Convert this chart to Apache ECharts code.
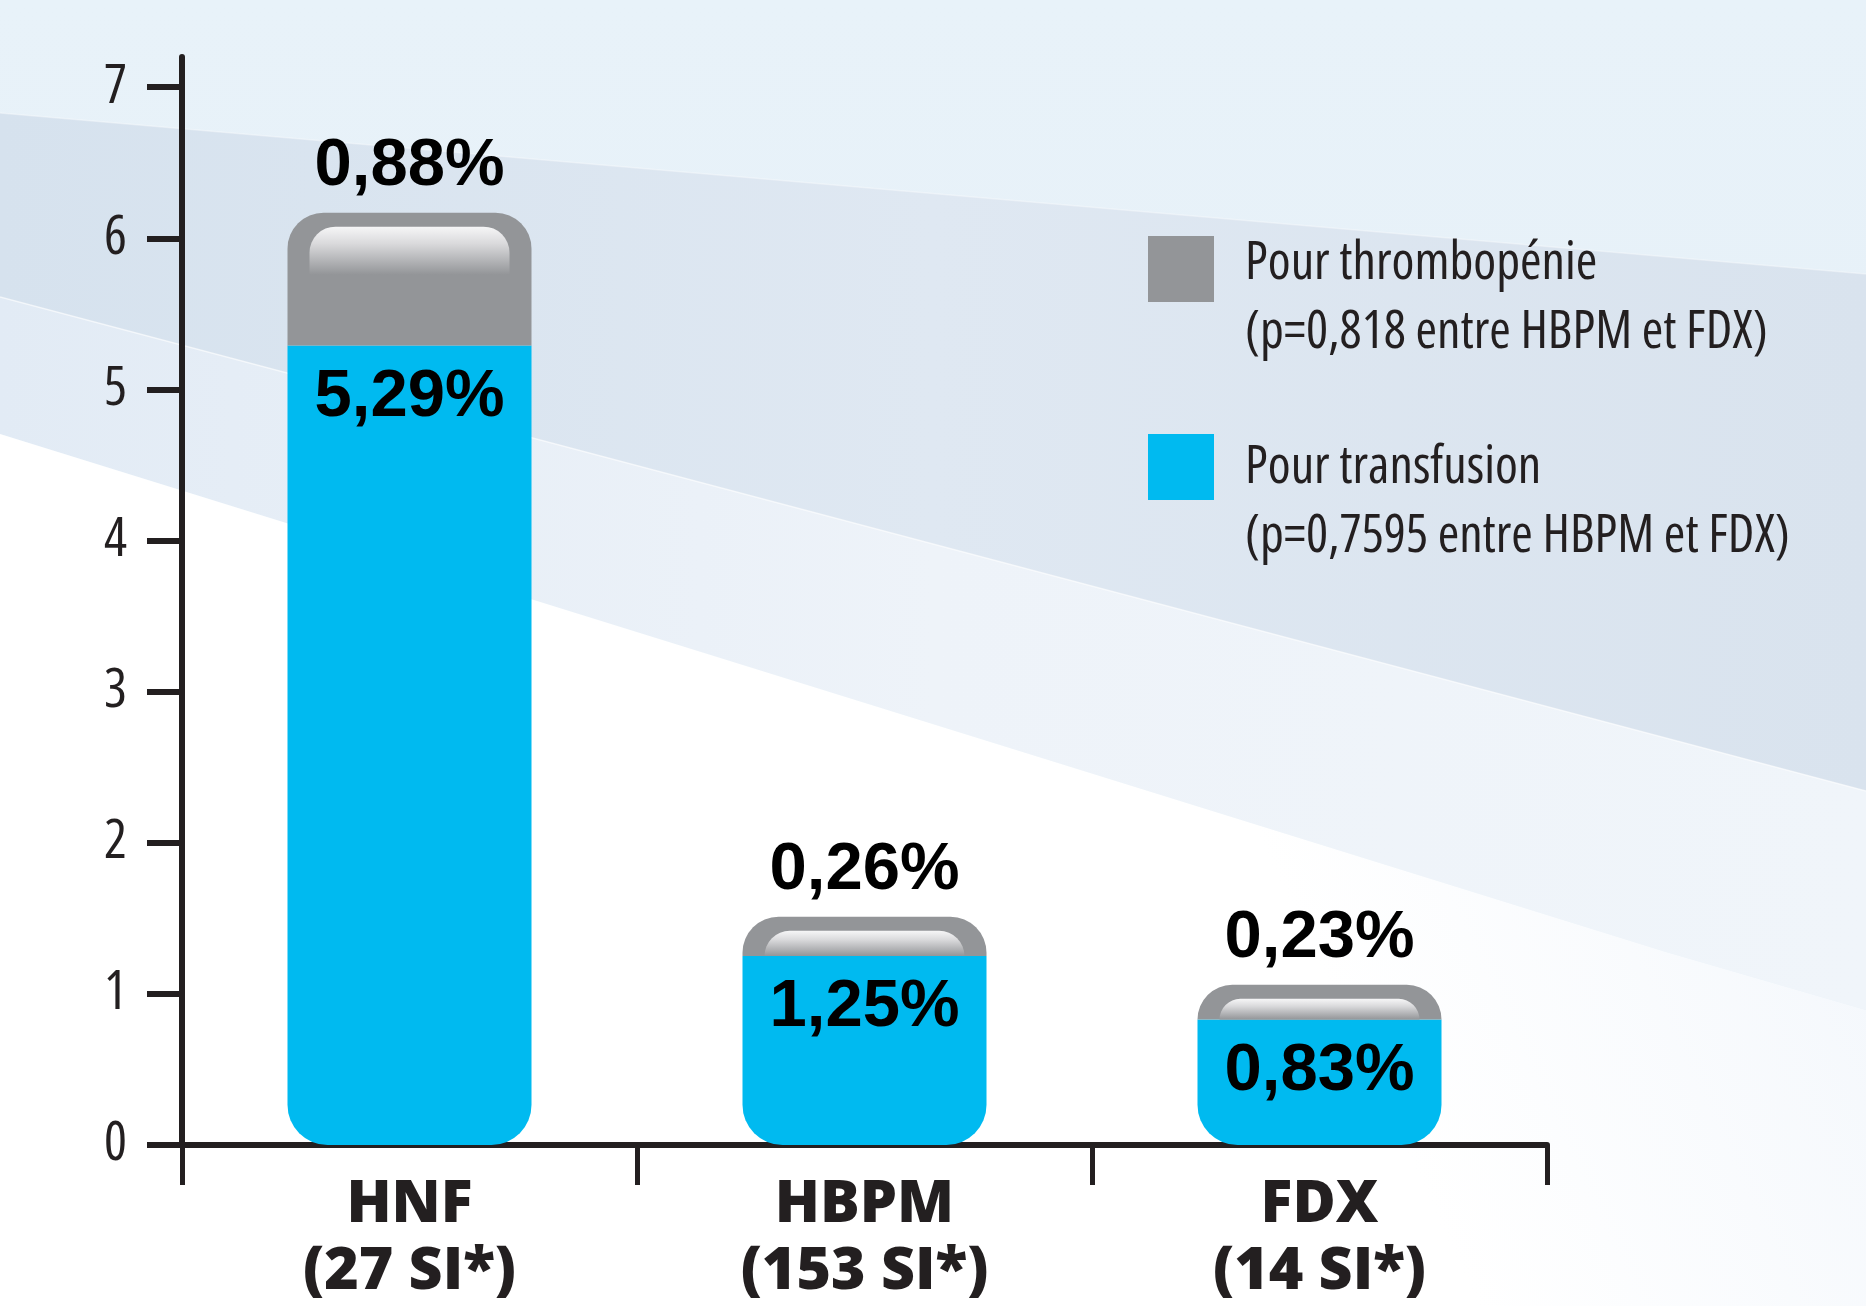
<!DOCTYPE html>
<html><head><meta charset="utf-8">
<script src="https://cdn.jsdelivr.net/npm/echarts@6/dist/echarts.min.js"></script>
<style>html,body{margin:0;padding:0;background:#fff;}#chart{width:1866px;height:1306px;}</style>
</head><body><div id="chart"></div>
<script>
const categories = ['HNF', 'HBPM', 'FDX'];
const categorySubLabels = ['(27 SI*)', '(153 SI*)', '(14 SI*)'];
const transfusionValues = [5.29, 1.25, 0.83];
const thrombopeniaValues = [0.88, 0.26, 0.23];
const seriesNames = ['Pour thrombopénie', 'Pour transfusion'];
const seriesNotes = ['(p=0,818 entre HBPM et FDX)', '(p=0,7595 entre HBPM et FDX)'];
const yTicks = [0, 1, 2, 3, 4, 5, 6, 7];

const INK = '#231f20';
const BLUE = '#00baf0';
const GREY = '#939598';
const fmt = v => v.toFixed(2).replace('.', ',') + '%';
const LG = echarts.graphic.LinearGradient;

const chart = echarts.init(document.getElementById('chart'), null, {renderer: 'canvas'});

const legendFont = {fontFamily: 'Open Sans', fontStyle: 'condensed', fontWeight: 500, fontSize: 52, lineHeight: 69, color: INK};
const legendText = spacer => Object.assign({}, legendFont, {
  padding: [0, 0, 0, 26],
  rich: {a: legendFont, s: {fontSize: 2, lineHeight: spacer}}
});
const legendFormatter = idx => n => '{s| }\n{a|' + n + '}\n{a|' + seriesNotes[idx] + '}';

chart.setOption({
  animation: false,
  backgroundColor: '#e6f0f8',
  graphic: [
    {type: 'rect', z: -100, silent: true, shape: {x: 0, y: 0, width: 1866, height: 1306},
     style: {fill: new LG(0, 0, 0, 1, [{offset: 0, color: '#e8f2f9'}, {offset: 1, color: '#e4eef6'}])}},
    {type: 'polygon', z: -99, silent: true, shape: {points: [[0, 113], [1866, 274], [1866, 791], [0, 297]]},
     style: {fill: new LG(0, 0, 1, 0, [{offset: 0, color: '#d6e2ee'}, {offset: 0.5, color: '#dfe8f2'}, {offset: 1, color: '#d9e3ee'}])}},
    {type: 'polygon', z: -98, silent: true, shape: {points: [[0, 297], [1866, 791], [1866, 1010], [1666, 952], [0, 434]]},
     style: {fill: new LG(0, 0, 1, 0, [{offset: 0, color: '#e2ebf5'}, {offset: 0.5, color: '#eef3f9'}, {offset: 1, color: '#f0f5fa'}])}},
    {type: 'polygon', z: -97, silent: true, shape: {points: [[0, 434], [1666, 952], [1866, 1010], [1866, 1306], [0, 1306]]},
     style: {fill: new LG(0, 1, 1, 0, [{offset: 0, color: '#ffffff'}, {offset: 0.65, color: '#ffffff'}, {offset: 1, color: '#f0f5fb'}])}},
    {type: 'polyline', z: -96, silent: true, shape: {points: [[0, 297], [1866, 791]]}, style: {stroke: 'rgba(255,255,255,0.6)', lineWidth: 1.5}},
    {type: 'polyline', z: -96, silent: true, shape: {points: [[0, 113], [1866, 274]]}, style: {stroke: 'rgba(255,255,255,0.35)', lineWidth: 1.5}}
  ],
  grid: {left: 182, right: 319, top: 57, bottom: 160, containLabel: false},
  legend: [
    {data: [seriesNames[0]], left: 1143, top: 165, icon: 'rect', itemWidth: 66, itemHeight: 66, selectedMode: false,
     formatter: legendFormatter(0), textStyle: legendText(60)},
    {data: [seriesNames[1]], left: 1143, top: 357, icon: 'rect', itemWidth: 66, itemHeight: 66, selectedMode: false,
     formatter: legendFormatter(1), textStyle: legendText(72)}
  ],
  xAxis: {
    type: 'category', data: categories,
    axisLine: {lineStyle: {color: INK, width: 6}},
    axisTick: {show: true, length: 40, interval: 0, alignWithLabel: false, lineStyle: {color: INK, width: 5}},
    axisLabel: {
      interval: 0, margin: 27, color: INK, fontFamily: 'Open Sans', fontWeight: 800, fontSize: 59, lineHeight: 67,
      formatter: (v, i) => v + '\n' + categorySubLabels[i]
    },
    splitLine: {show: false}
  },
  yAxis: {
    type: 'value', min: 0, max: 7.2,
    axisLine: {show: true, lineStyle: {color: INK, width: 6}},
    axisTick: {show: true, length: 35, customValues: yTicks, lineStyle: {color: INK, width: 6}},
    axisLabel: {customValues: yTicks, margin: 55, color: INK, fontFamily: 'Open Sans', fontStyle: 'condensed', fontWeight: 400, fontSize: 54},
    splitLine: {show: false}
  },
  series: [
    {
      name: seriesNames[1], type: 'bar', stack: 'total', barWidth: 244, data: transfusionValues,
      itemStyle: {color: BLUE, borderRadius: [0, 0, 40, 40]},
      label: {show: true, position: 'insideTop', distance: 18, formatter: p => fmt(p.value),
              color: '#000', fontFamily: 'Liberation Sans', fontWeight: 'bold', fontSize: 67}
    },
    {
      name: seriesNames[0], type: 'bar', stack: 'total', barWidth: 244, data: thrombopeniaValues,
      itemStyle: {color: GREY, borderRadius: [36, 36, 0, 0]},
      label: {show: true, position: 'top', distance: 13, formatter: p => fmt(p.value),
              color: '#000', fontFamily: 'Liberation Sans', fontWeight: 'bold', fontSize: 67}
    },
    {
      name: 'gloss', type: 'custom', z: 5, silent: true,
      data: categories.map((c, i) => [i, transfusionValues[i], transfusionValues[i] + thrombopeniaValues[i]]),
      encode: {x: 0, y: 2},
      renderItem: (params, api) => {
        const i = api.value(0);
        const top = api.coord([i, api.value(2)]);
        const mid = api.coord([i, api.value(1)]);
        const half = 122, insetX = 22, insetY = 14;
        const y0 = top[1] + insetY;
        const h = Math.max(0, Math.min(48, mid[1] - y0));
        return {
          type: 'rect',
          shape: {x: top[0] - half + insetX, y: y0, width: 2 * (half - insetX), height: h, r: [26, 26, 0, 0]},
          style: {fill: new LG(0, 0, 0, 1, [{offset: 0, color: '#f6f6f7'}, {offset: 0.35, color: '#dadadc'}, {offset: 1, color: GREY}])}
        };
      }
    }
  ]
});
</script></body></html>
